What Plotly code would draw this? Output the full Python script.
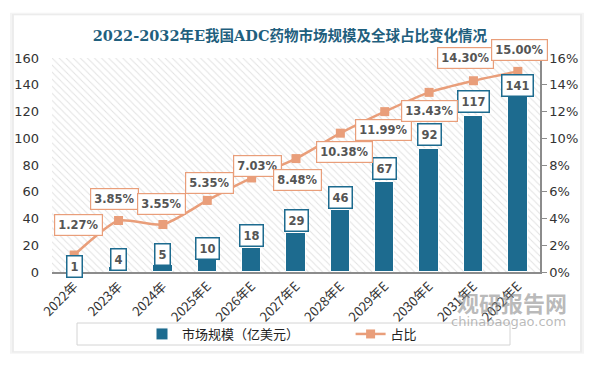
import plotly.graph_objects as go

categories = ["2022年", "2023年", "2024年", "2025年E", "2026年E", "2027年E",
              "2028年E", "2029年E", "2030年E", "2031年E", "2032年E"]
market_size = [1, 4, 5, 10, 18, 29, 46, 67, 92, 117, 141]
share_pct = [1.27, 3.85, 3.55, 5.35, 7.03, 8.48, 10.38, 11.99, 13.43, 14.30, 15.00]
left_ticks = [0, 20, 40, 60, 80, 100, 120, 140, 160]
right_ticks = [0, 2, 4, 6, 8, 10, 12, 14, 16]

BAR = "#1D6B8F"
LINE = "#E99E7A"
TITLE_C = "#1F5F7E"

# label placement (pixels) – styling only
bar_lab_shift = [4, 7, 11, 10, 12, 13, 13, 14, 14, 14, -2]
line_lab_dx = [4, -4, -1, 2, 6, 1, 4, -1, 0, -8, 2]
line_lab_dy = [30, 22, 21, 17, 12, -21, -19, -18, -19, 23, 21]

xs = list(range(len(categories)))

fig = go.Figure()

# hatched plot background
fig.add_trace(go.Bar(
    x=[(len(categories) - 1) / 2], y=[left_ticks[-1]], width=[len(categories)],
    marker=dict(color="white", line=dict(width=0),
                pattern=dict(shape="\\", fgcolor="#c6c6c6", bgcolor="white",
                             size=5, solidity=0.2, fillmode="overlay")),
    showlegend=False, hoverinfo="skip"))

fig.add_trace(go.Bar(
    x=xs, y=market_size, name="市场规模（亿美元）" + "\u00a0" * 16, width=0.44,
    marker=dict(color=BAR, line=dict(color="white", width=1))))

fig.add_trace(go.Scatter(
    x=xs, y=share_pct, name="占比", yaxis="y2", mode="lines+markers",
    line=dict(color=LINE, width=2.5, shape="spline", smoothing=0.6),
    marker=dict(symbol="square", size=9, color=LINE)))

ann = []
for i, v in enumerate(market_size):
    ann.append(dict(x=xs[i], y=v, xref="x", yref="y", text=f"<b>{v}</b>",
                    showarrow=False, yanchor="middle", yshift=bar_lab_shift[i],
                    font=dict(size=11.5, color="#555555", family="DejaVu Sans"),
                    bgcolor="white", bordercolor=BAR, borderwidth=1.5, borderpad=3))
for i, v in enumerate(share_pct):
    ann.append(dict(x=xs[i], y=v, xref="x", yref="y2", text=f"<b>{v:.2f}%</b>",
                    showarrow=False, yanchor="middle", yshift=line_lab_dy[i],
                    xshift=line_lab_dx[i],
                    font=dict(size=11.5, color="#555555", family="DejaVu Sans"),
                    bgcolor="white", bordercolor=LINE, borderwidth=1.2, borderpad=3))

ann.append(dict(x=(512 - 52) / 488, y=-(302 - 272) / 214, xref="paper", yref="paper",
                xanchor="center", yanchor="middle", showarrow=False,
                text="<b>观研报告网</b>", font=dict(size=22, color="rgba(140,140,140,0.6)",
                                               family="Noto Sans CJK SC")))
ann.append(dict(x=(508 - 52) / 488, y=-(321 - 272) / 214, xref="paper", yref="paper",
                xanchor="center", yanchor="middle", showarrow=False,
                text="chinabaogao.com", font=dict(size=13, color="rgba(140,140,140,0.6)",
                                                 family="DejaVu Sans")))

shapes = []
# card shadow
for k, c in enumerate(["#f4f4f4", "#ececec", "#e4e4e4"]):
    shapes.append(dict(type="rect", xref="paper", yref="paper", layer="below",
                       x0=-0.078 - 0.004 * (2 - k), x1=1.082 + 0.004 * (2 - k),
                       y0=-0.37 - 0.006 * (2 - k), y1=1.2 + 0.006 * (2 - k),
                       line=dict(width=0), fillcolor=c))
shapes.append(dict(type="rect", xref="paper", yref="paper", layer="below",
                   x0=-0.078, x1=1.082, y0=-0.37, y1=1.2,
                   line=dict(width=0), fillcolor="white"))
# legend frame
shapes.append(dict(type="rect", xref="paper", yref="paper", layer="below",
                   x0=(77 - 52) / 488, x1=(510 - 52) / 488,
                   y0=-(345 - 272) / 214, y1=-(323 - 272) / 214,
                   line=dict(width=1, color="#d4d4d4"), fillcolor="white"))

fig.update_layout(
    width=594, height=366,
    margin=dict(l=52, r=54, t=58, b=94, autoexpand=False),
    paper_bgcolor="white", plot_bgcolor="rgba(0,0,0,0)",
    barmode="overlay",
    title=dict(text="<b>2022-2032年E我国ADC药物市场规模及全球占比变化情况</b>",
               x=0.488, xanchor="center", y=0.902, yanchor="middle",
               font=dict(size=14.5, color=TITLE_C, family="DejaVu Serif, Noto Sans CJK SC"),
               automargin=False),
    xaxis=dict(range=[-0.5, len(categories) - 0.5], tickmode="array", tickvals=xs,
               ticktext=categories, tickangle=-45, showgrid=False, zeroline=False,
               showline=True, linecolor="#8c8c8c", linewidth=1.5, ticks="",
               automargin=False,
               tickfont=dict(size=13, color="#333333", family="Noto Sans CJK SC")),
    yaxis=dict(range=[0, 160], tickvals=left_ticks, showgrid=False, zeroline=False,
               showline=False, automargin=False, ticklabelstandoff=12,
               tickfont=dict(size=13, color="#333333", family="DejaVu Sans"),
               ticks="", ticklen=0),
    yaxis2=dict(range=[0, 16], tickvals=right_ticks,
                ticktext=[f"{t}%" for t in right_ticks], overlaying="y", side="right",
                showgrid=False, zeroline=False, showline=True, linecolor="#8c8c8c",
                linewidth=1.5, ticks="outside", ticklen=5, tickcolor="#8c8c8c",
                automargin=False,
                tickfont=dict(size=13, color="#333333", family="DejaVu Sans")),
    legend=dict(orientation="h", x=(142 - 52) / 488, xanchor="left",
                y=-(334 - 272) / 214, yanchor="middle",
                borderwidth=0, bgcolor="rgba(0,0,0,0)",
                font=dict(size=13, color="#222222", family="Noto Sans CJK SC"),
                itemwidth=30),
    annotations=ann, shapes=shapes,
    bargap=0,
)

fig.write_html("out.html", config={"displayModeBar": False},
               post_script="document.body.style.margin='0';")
